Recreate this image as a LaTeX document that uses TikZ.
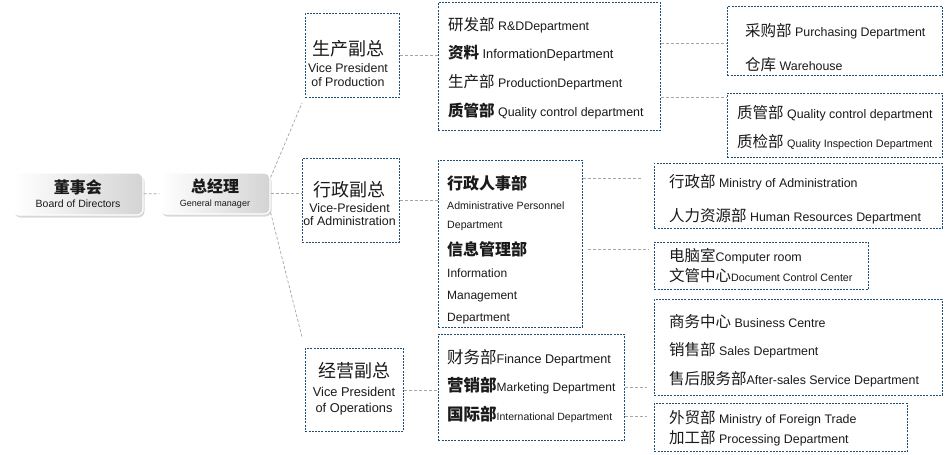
\documentclass[tikz,border=0pt]{standalone}
\usepackage{fontspec}
\setmainfont{Liberation Sans}
\newfontfamily\cjk{Noto Sans CJK SC}
\usetikzlibrary{shadows}

\definecolor{boxblue}{HTML}{1F4E79}
\definecolor{linegray}{HTML}{A6A6A6}
\definecolor{inkgray}{HTML}{1A1A1A}

\newcommand\zh[2][15.5]{{\cjk\fontsize{#1}{#1}\selectfont #2}}
\newcommand\zhb[2][15.5]{{\cjk\bfseries\fontsize{#1}{#1}\selectfont #2}}
\newcommand\en[2][12.4]{{\fontsize{#1}{#1}\selectfont #2}}

\tikzset{
  chief/.style={rounded corners=6pt, draw=white, line width=1.2pt,
    left color=white, right color=black!17,
    drop shadow={opacity=0.3, shadow xshift=1.5pt, shadow yshift=-2.5pt},
    align=center, inner sep=0pt, text=inkgray,
    font=\fontsize{10}{14}\selectfont},
  deptbox/.style={draw=boxblue, line width=0.9pt,
    dash pattern=on 2pt off 1.2pt, fill=white, anchor=north west, inner sep=0pt},
  txt/.style={anchor=north west, inner sep=0pt, align=left, text=inkgray,
    font=\fontsize{12.4}{#1}\selectfont},
  vptxt/.style={anchor=north, inner sep=0pt, align=center, text=inkgray,
    font=\fontsize{12.4}{#1}\selectfont},
  link/.style={draw=linegray, line width=0.7pt, dash pattern=on 3pt off 2pt},
}

\begin{document}
\begin{tikzpicture}[x=1pt, y=-1pt]
  \fill[white] (0,0) rectangle (946,455);
  \useasboundingbox (0,0) rectangle (946,455);

  %% top of the tree
  \node[chief, minimum width=130pt, minimum height=42pt] (board) at (78,194)
    {\zhb[16]{董事会}\\ \en[10.5]{Board of Directors}};
  \node[chief, minimum width=110pt, minimum height=41pt] (gm) at (215,193.5)
    {\zhb[16]{总经理}\\ \en[9]{General manager}};

  %% vice presidents
  \node[deptbox, minimum width=94pt, minimum height=84pt] (vpp) at (305,13) {};
  \node[deptbox, minimum width=97pt, minimum height=84pt] (vpa) at (302,158) {};
  \node[deptbox, minimum width=98pt, minimum height=83pt] (vpo) at (305,348) {};

  \node[vptxt=13.5] (vppt) at (348,40)
    {\zh[18]{生产副总}\\[4pt] Vice President\\ of Production};
  \node[vptxt=13] (vpat) at (349.5,181)
    {\zh[18]{行政副总}\\[3pt] Vice-President\\ of Administration};
  \node[vptxt=16] (vpot) at (354,362)
    {\zh[18]{经营副总}\\[3pt] \en[12.8]{Vice President}\\ \en[12.8]{of Operations}};

  %% departments
  \node[deptbox, minimum width=222pt, minimum height=128pt] (prod) at (438,2) {};
  \node[deptbox, minimum width=144pt, minimum height=167pt] (adm) at (438,160) {};
  \node[deptbox, minimum width=186pt, minimum height=106pt] (ops) at (438,334) {};

  \node[txt=28.7] (prodt) at (448,17)
    {\zh{研发部} \en{R\&DDepartment}\\
     \zhb{资料} \en[12.8]{InformationDepartment}\\
     \zh{生产部} \en{ProductionDepartment}\\
     \zhb{质管部} \en{Quality control department}};
  \node[txt=22] (admt) at (447,175)
    {\zhb[16]{行政人事部}\\[-2pt]
     \en[10.6]{Administrative Personnel}\\[-3pt]
     \en[10.6]{Department}\\[5pt]
     \zhb[16]{信息管理部}\\
     \en[12]{Information}\\
     \en[12]{Management}\\
     \en[12]{Department}};
  \node[txt=28.5] (opst) at (447,349)
    {\zh[16.5]{财务部}\en[12.6]{Finance Department}\\
     \zhb[16.5]{营销部}\en[12]{Marketing Department}\\
     \zhb[16.5]{国际部}\en[10.5]{International Department}};

  %% sections
  \node[deptbox, minimum width=215pt, minimum height=69pt] (pur) at (727,6) {};
  \node[deptbox, minimum width=215pt, minimum height=64pt] (qual) at (727,93) {};
  \node[deptbox, minimum width=288pt, minimum height=65pt] (mad) at (654,163) {};
  \node[deptbox, minimum width=214pt, minimum height=47pt] (cr) at (654,242) {};
  \node[deptbox, minimum width=288pt, minimum height=96pt] (bus) at (654,299) {};
  \node[deptbox, minimum width=253pt, minimum height=48pt] (ft) at (654,403) {};

  \node[txt=34] (purt) at (745,23)
    {\zh{采购部} \en{Purchasing Department}\\ \zh{仓库} \en{Warehouse}};
  \node[txt=29] (qualt) at (737,105)
    {\zh{质管部} \en{Quality control department}\\
     \zh{质检部} \en[10.8]{Quality Inspection Department}};
  \node[txt=34] (madt) at (669,174)
    {\zh{行政部} \en{Ministry of Administration}\\
     \zh{人力资源部} \en{Human Resources Department}};
  \node[txt=20] (crt) at (669,248)
    {\zh{电脑室}\en{Computer room}\\
     \zh{文管中心}\en[10.7]{Document Control Center}};
  \node[txt=28.5] (bust) at (669,314)
    {\zh{商务中心} \en{Business Centre}\\
     \zh{销售部} \en{Sales Department}\\
     \zh{售后服务部}\en{After-sales Service Department}};
  \node[txt=20] (ftt) at (669,410)
    {\zh{外贸部} \en{Ministry of Foreign Trade}\\
     \zh{加工部} \en{Processing Department}};

  %% links
  \draw[link] (board) -- (gm);
  \draw[link] ([yshift=16pt]gm.east) -- ([xshift=-3pt,yshift=-5pt]vpp.south west);
  \draw[link] (gm.east) -- (gm.east -| vpa.west);
  \draw[link] ([yshift=-19pt]gm.east) -- ([xshift=-3pt,yshift=11pt]vpo.north west);
  \foreach \a/\b in {vpp/prod, vpa/adm, vpo/ops}
    \draw[link] (\a.east) -- (\a.east -| \b.west);

  \coordinate (purin) at ([yshift=-2.5pt]pur.west);
  \coordinate (qualin) at ([yshift=-4pt]qual.north west);
  \coordinate (madin) at ([yshift=-15pt]mad.north west);
  \coordinate (crin) at ([yshift=-7pt]cr.north west);
  \coordinate (busin) at ([yshift=9pt]bus.south west);
  \coordinate (ftin) at ([yshift=-13pt]ft.north west);

  \draw[link] (purin -| prod.east) -- (purin);
  \draw[link] (qualin -| prod.east) -- (qualin);
  \draw[link, shorten >=12pt] (madin -| adm.east) -- (madin);
  \draw[link, shorten <=5pt, shorten >=6pt] (crin -| adm.east) -- (crin);
  \draw[link, shorten >=7pt] (busin -| ops.east) -- (busin);
  \draw[link, shorten >=7pt] (ftin -| ops.east) -- (ftin);
\end{tikzpicture}
\end{document}
